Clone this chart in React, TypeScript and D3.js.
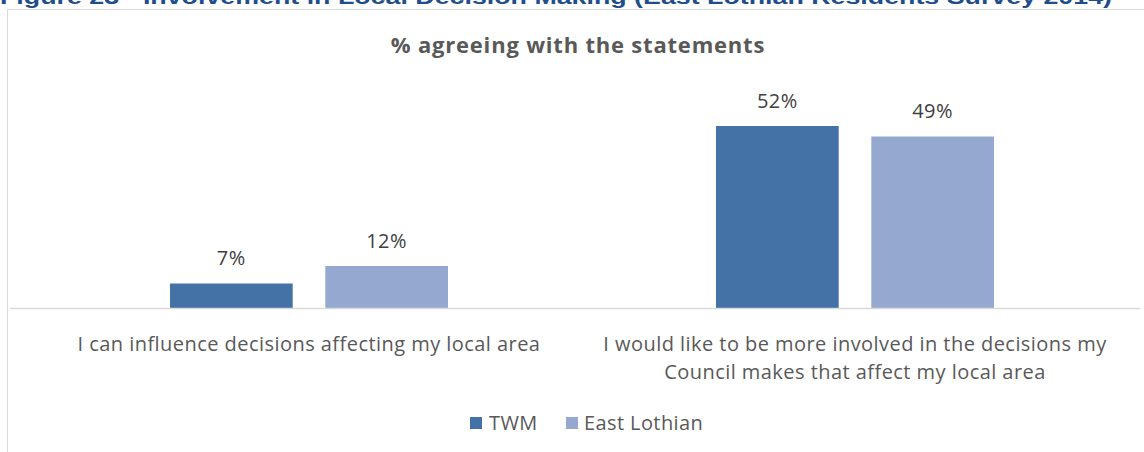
import React from "react";
import * as d3 from "d3";

const categories: string[][] = [
  ["I can influence decisions affecting my local area"],
  ["I would like to be more involved in the decisions my", "Council makes that affect my local area"],
];
const seriesNames = ["TWM", "East Lothian"];
const twmValues = [7, 52];
const eastLothianValues = [12, 49];
const colors = ["#4472A6", "#95A9D0"];

const W = 1144;
const H = 452;
const FONT = "'Open Sans', sans-serif";

export default function App() {
  const x0 = d3.scaleBand<number>().domain([0, 1]).range([36, 1128]).paddingInner(0).paddingOuter(0);
  const x1 = d3.scaleBand<number>().domain([0, 1]).range([134, 412]).paddingInner(0.21).paddingOuter(0);
  const y = d3.scaleLinear().domain([0, 60]).range([308, 98]);
  const series = [twmValues, eastLothianValues];

  return (
    <svg width={W} height={H} style={{ position: "absolute", left: 0, top: 0, background: "#fff" }}>
      <text x={0} y={4} fontFamily="Arial, 'Liberation Sans', sans-serif" fontWeight="bold" fontSize={21} fill="#1F4E8C" textLength={1112} lengthAdjust="spacingAndGlyphs">
        Figure 23 - Involvement in Local Decision Making (East Lothian Residents Survey 2014)
      </text>
      <rect x={7.5} y={9.5} width={1160} height={500} fill="#fff" stroke="#D9D9D9" strokeWidth={1} />
      <text x={578} y={53} textAnchor="middle" fontFamily={FONT} fontWeight="bold" fontSize={22} letterSpacing={0.8} fill="#595959">
        % agreeing with the statements
      </text>
      {categories.map((_, ci) =>
        series.map((vals, si) => {
          const bx = (x0(ci) as number) + (x1(si) as number);
          const v = vals[ci];
          return (
            <g key={`${ci}-${si}`}>
              <rect x={bx} y={y(v)} width={x1.bandwidth()} height={y(0) - y(v)} fill={colors[si]} />
              <text x={bx + x1.bandwidth() / 2} y={y(v) - 18.5} textAnchor="middle" fontFamily={FONT} fontSize={20} letterSpacing={0.5} fill="#404040">
                {v}%
              </text>
            </g>
          );
        })
      )}
      <line x1={10} x2={1140} y1={308.5} y2={308.5} stroke="#D9D9D9" strokeWidth={1.5} />
      {categories.map((lines, ci) => (
        <text key={ci} textAnchor="middle" fontFamily={FONT} fontSize={20} letterSpacing={0.45} fill="#595959">
          {lines.map((l, li) => (
            <tspan key={li} x={(x0(ci) as number) + x0.bandwidth() / 2} y={351 + li * 28}>
              {l}
            </tspan>
          ))}
        </text>
      ))}
      <g>
        <rect x={470} y={417} width={12} height={12} fill={colors[0]} />
        <text x={489} y={430} fontFamily={FONT} fontSize={20} letterSpacing={0.4} fill="#595959">{seriesNames[0]}</text>
        <rect x={566} y={417} width={12} height={12} fill={colors[1]} />
        <text x={584} y={430} fontFamily={FONT} fontSize={20} letterSpacing={0.4} fill="#595959">{seriesNames[1]}</text>
      </g>
    </svg>
  );
}
